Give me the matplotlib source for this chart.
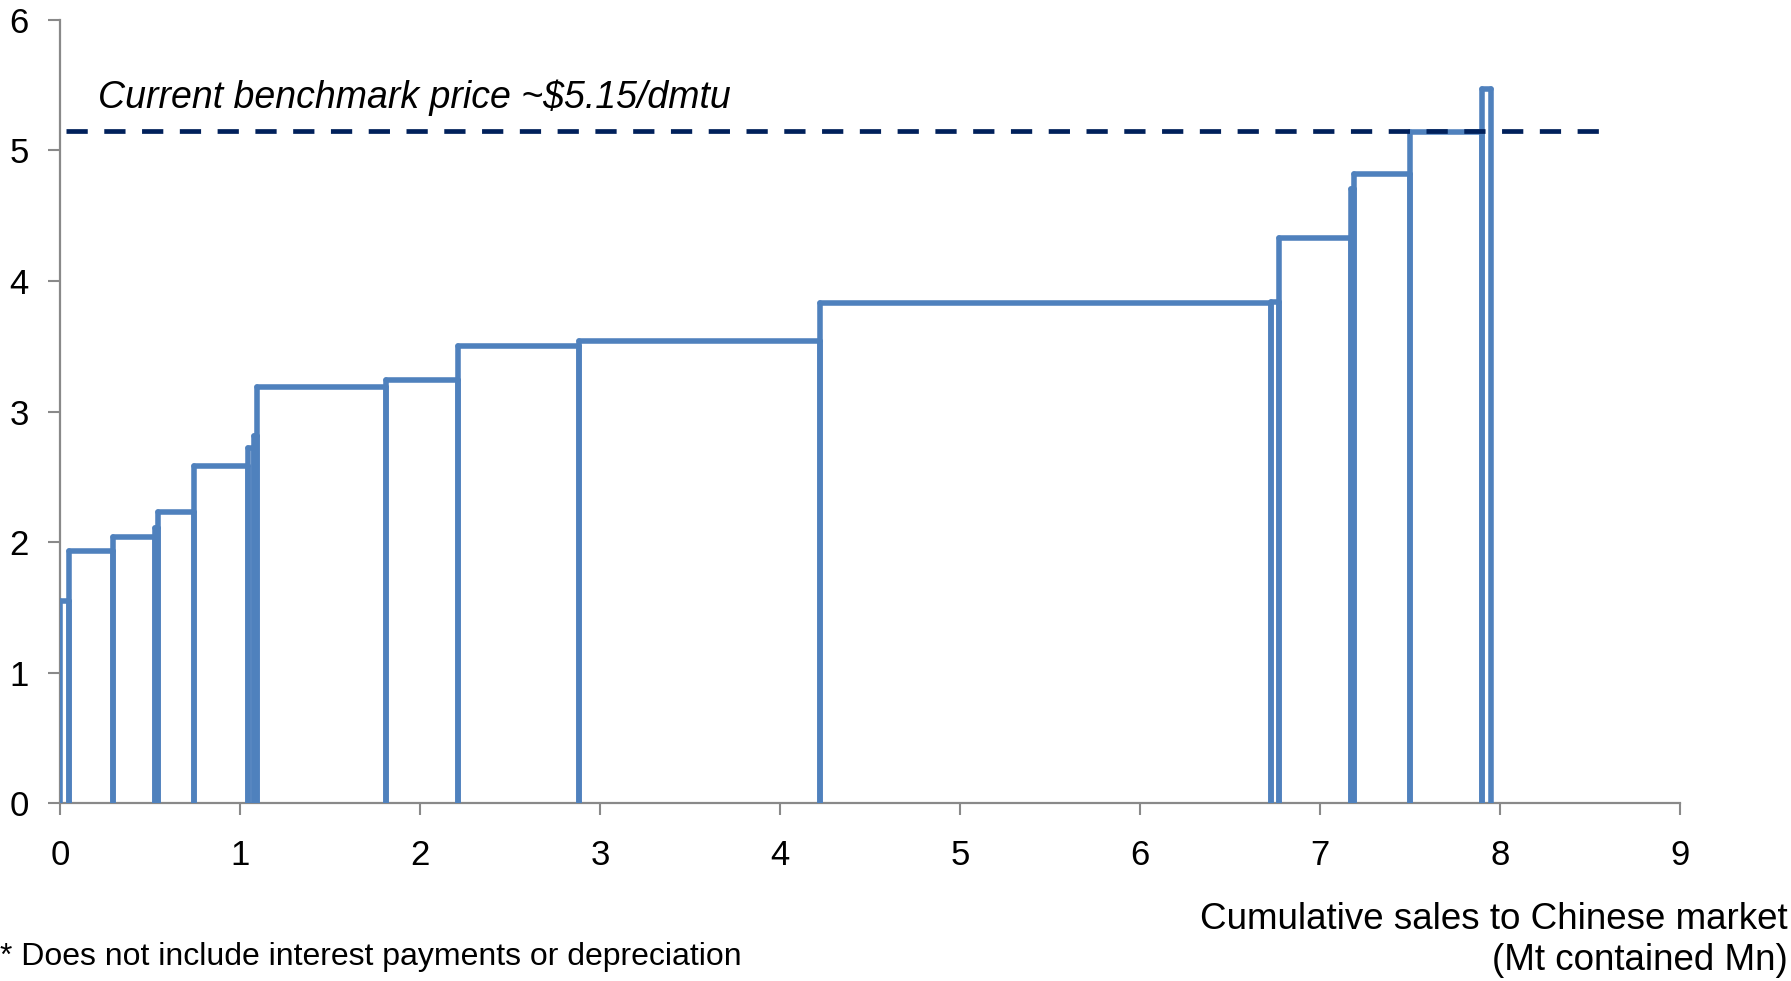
import matplotlib
matplotlib.use("Agg")
import matplotlib.pyplot as plt

plt.rcParams['font.family'] = ['Liberation Sans', 'DejaVu Sans']

# Кривая себестоимости: левая/правая граница каждого производителя и его цена
x_left = [0.00, 0.05, 0.29, 0.525, 0.545, 0.745, 1.045, 1.075, 1.09, 1.81, 2.21,
          2.88, 4.22, 6.725, 6.77, 7.17, 7.19, 7.50, 7.90]
x_right = [0.05, 0.29, 0.525, 0.545, 0.745, 1.045, 1.075, 1.09, 1.81, 2.21, 2.88,
           4.22, 6.725, 6.77, 7.17, 7.19, 7.50, 7.90, 7.95]
cost = [1.55, 1.93, 2.04, 2.11, 2.23, 2.58, 2.72, 2.81, 3.19, 3.24, 3.50,
        3.54, 3.83, 3.84, 4.33, 4.70, 4.82, 5.14, 5.47]

benchmark = 5.15
bench_range = (0.03, 8.60)

blue = '#4F81BD'
navy = '#00205B'
grey = '#898989'

fig = plt.figure(figsize=(17.91, 9.81), dpi=100)
ax = fig.add_axes([0.0337, 0.181, 0.9043, 0.799])

# прямоугольники без нижней грани
ax.hlines(cost, x_left, x_right, color=blue, lw=4.0, capstyle='round')
ax.vlines(x_left, 0, cost, color=blue, lw=4.0, capstyle='round')
ax.vlines(x_right, 0, cost, color=blue, lw=4.0, capstyle='round')

ax.plot(bench_range, [benchmark, benchmark], color=navy, lw=3.4,
        dashes=(4.5, 3.5), zorder=5)
ax.text(0.21, 5.40, 'Current benchmark price ~$5.15/dmtu', fontsize=27,
        style='italic', va='center', ha='left')

ax.set_xlim(0, 9)
ax.set_ylim(0, 6)
ax.set_xticks(range(0, 10))
ax.set_yticks(range(0, 7))

for s in ['top', 'right']:
    ax.spines[s].set_visible(False)
for s in ['left', 'bottom']:
    ax.spines[s].set_color(grey)
    ax.spines[s].set_linewidth(1.6)
    ax.spines[s].set_zorder(0)

ax.tick_params(axis='both', direction='out', length=8.6, width=1.5,
               color=grey, labelsize=25)
ax.tick_params(axis='x', pad=17)
ax.tick_params(axis='y', pad=14)

fig.text(0.998, 0.042, 'Cumulative sales to Chinese market\n(Mt contained Mn)',
         fontsize=26.5, ha='right', va='center', multialignment='right',
         linespacing=1.24)
fig.text(0.0, 0.024, '* Does not include interest payments or depreciation',
         fontsize=23, ha='left', va='center')

fig.savefig('out.png', dpi=100)
